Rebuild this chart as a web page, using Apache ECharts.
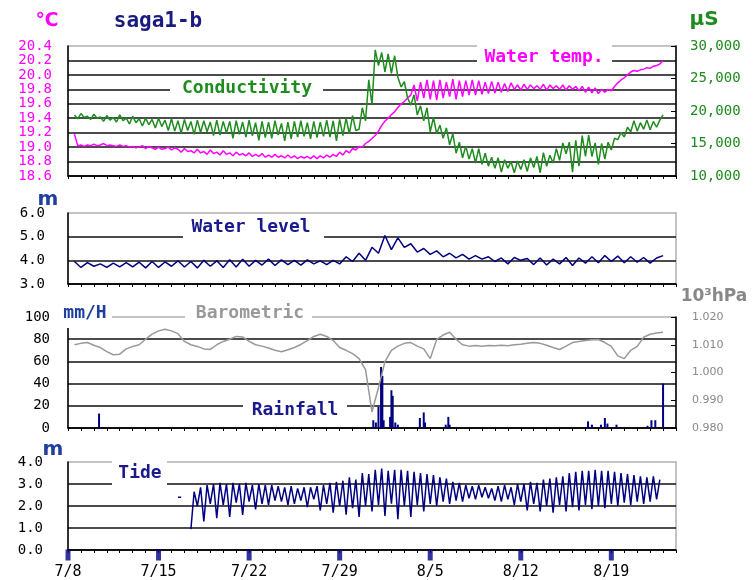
<!DOCTYPE html>
<html>
<head>
<meta charset="utf-8">
<script src="https://cdn.jsdelivr.net/npm/echarts@6/dist/echarts.min.js"></script>
<style>
  html, body { margin: 0; padding: 0; background: #fff; }
  #main { width: 754px; height: 580px; }
</style>
</head>
<body>
<div id="main"></div>
<script>
// x axis = days counted from 7/8 0:00
var dateLabels = ['7/8', '7/15', '7/22', '7/29', '8/5', '8/12', '8/19'];

// conductivity (uS), 4 readings a day from day 0.5
var condStart = 0.5, condStep = 0.25;
var conductivity = [
  19400, 18800, 19600, 19000,  19200, 18700, 19500, 18900,  19100, 18400, 19300, 18600,
  19000, 18300, 19400, 18500,  18900, 18000, 19200, 18200,  18800, 17700, 18900, 17900,
  18700, 17400, 18900, 17600,  18600, 17000, 18800, 16900,  18500, 16600, 18700, 17000,
  18400, 16400, 18600, 16700,  18500, 16800, 18300, 16200,  18600, 16300, 18400, 16600,
  18400, 15800, 18500, 16400,  18300, 16000, 18600, 16200,  18200, 15500, 18400, 15900,
  18300, 15800, 18500, 16300,  18100, 15400, 18300, 15700,  18400, 16000, 18500, 16100,
  18200, 15700, 18400, 15900,  18300, 16100, 18600, 16000,  18500, 15400, 18700, 16200,
  18900, 16500, 19300, 17000,  17200, 20500, 18500, 24800,  21000, 29400, 27000, 29000,
  26000, 28800, 25800, 28500,  25200, 23700, 24500, 22000,  20900, 22500, 19400, 20800,
  18500, 20500, 16800, 19000,  16500, 17800, 15800, 17400,  14800, 16500, 13500, 15200,
  12800, 14600, 12600, 14200,  12000, 14200, 11800, 13500,  11500, 12900, 11200, 12800,
  10600, 12500, 11200, 12200,  10500, 12300, 11000, 12500,  10700, 12800, 11300, 13000,
  10500, 13600, 11500, 13200,  12000, 14200, 12400, 15100,  13400, 15200, 10600, 15500,
  11500, 16200, 13000, 16300,  13000, 15100, 11800, 15000,  12600, 15200, 14000, 15800,
  15600, 16700, 16000, 17500,  16800, 18500, 16900, 18200,  17200, 18600, 17100, 18400,
  17500, 18600, 19400
];

// water temperature (deg C), 4 readings a day from day 0.5
var tempStart = 0.5, tempStep = 0.25;
var waterTemp = [
  19.18, 19.02, 19.03, 19.01,  19.03, 19.02, 19.04, 19.02,  19.03, 19.05, 19.02, 19.03,
  19.02, 19.01, 19.03, 19.01,  19.02, 19.00, 19.01, 18.99,  19.00, 19.02, 18.98, 19.01,
  18.99, 18.97, 19.00, 18.97,  18.98, 19.00, 18.96, 18.99,  18.97, 18.93, 18.98, 18.94,
  18.95, 18.92, 18.97, 18.92,  18.94, 18.90, 18.96, 18.91,  18.93, 18.89, 18.95, 18.90,
  18.92, 18.88, 18.93, 18.89,  18.91, 18.88, 18.92, 18.87,  18.90, 18.87, 18.91, 18.86,
  18.89, 18.86, 18.90, 18.86,  18.88, 18.85, 18.89, 18.85,  18.88, 18.84, 18.87, 18.85,
  18.87, 18.84, 18.88, 18.84,  18.88, 18.85, 18.89, 18.86,  18.90, 18.87, 18.93, 18.89,
  18.95, 18.92, 18.98, 18.96,  19.01, 19.00, 19.05, 19.08,  19.12, 19.16, 19.22, 19.30,
  19.36, 19.40, 19.45, 19.49,  19.55, 19.60, 19.63, 19.68,  19.72, 19.86, 19.64, 19.90,
  19.68, 19.93, 19.66, 19.92,  19.65, 19.93, 19.68, 19.90,  19.70, 19.94, 19.66, 19.92,
  19.70, 19.92, 19.72, 19.93,  19.72, 19.92, 19.73, 19.90,  19.74, 19.91, 19.75, 19.90,
  19.76, 19.88, 19.77, 19.89,  19.80, 19.86, 19.79, 19.87,  19.80, 19.86, 19.81, 19.85,
  19.80, 19.87, 19.79, 19.86,  19.81, 19.85, 19.80, 19.86,  19.79, 19.85, 19.80, 19.84,
  19.78, 19.84, 19.76, 19.83,  19.75, 19.82, 19.74, 19.80,  19.76, 19.80, 19.78, 19.84,
  19.89, 19.93, 19.96, 20.00,  20.04, 20.06, 20.05, 20.07,  20.08, 20.10, 20.09, 20.12,
  20.13, 20.15, 20.20
];

// water level (m), 2 readings a day from day 0.5
var levelStart = 0.5, levelStep = 0.5;
var waterLevel = [
  3.95, 3.70, 3.90, 3.75, 3.85, 3.70, 3.88, 3.72,
  3.90, 3.72, 3.92, 3.68, 3.95, 3.70, 3.93, 3.75,
  3.98, 3.72, 3.95, 3.68, 4.00, 3.75, 3.98, 3.70,
  4.02, 3.72, 4.05, 3.75, 4.00, 3.80, 4.05, 3.78,
  4.02, 3.82, 4.00, 3.80, 4.02, 3.85, 3.98, 3.82,
  4.00, 3.85, 4.15, 3.95, 4.30, 4.00, 4.55, 4.30,
  5.05, 4.45, 4.95, 4.55, 4.70, 4.35, 4.50, 4.25,
  4.40, 4.15, 4.30, 4.10, 4.25, 4.05, 4.20, 4.05,
  4.15, 3.95, 4.10, 3.85, 4.12, 4.00, 4.08, 3.82,
  4.10, 3.80, 4.05, 3.85, 4.12, 3.78, 4.10, 3.88,
  4.15, 3.90, 4.20, 3.95, 4.18, 3.90, 4.15, 3.92,
  4.12, 3.88, 4.10, 4.20
];

// barometric pressure (10^3 hPa), 2 readings a day from day 0.5
var baroStart = 0.5, baroStep = 0.5;
var barometric = [
  1.0100, 1.0105, 1.0108, 1.0098, 1.0090, 1.0075, 1.0064, 1.0066,
  1.0085, 1.0094, 1.0100, 1.0120, 1.0138, 1.0150, 1.0156, 1.0150,
  1.0140, 1.0112, 1.0100, 1.0094, 1.0085, 1.0083, 1.0100, 1.0112,
  1.0120, 1.0130, 1.0128, 1.0112, 1.0100, 1.0095, 1.0088, 1.0080,
  1.0075, 1.0082, 1.0090, 1.0101, 1.0115, 1.0130, 1.0138, 1.0130,
  1.0115, 1.0090, 1.0080, 1.0068, 1.0050, 1.0010, 0.9858, 0.9945,
  1.0039, 1.0080, 1.0095, 1.0105, 1.0108, 1.0095, 1.0085, 1.0050,
  1.0119, 1.0135, 1.0145, 1.0120, 1.0100, 1.0095, 1.0097, 1.0095,
  1.0097, 1.0096, 1.0098, 1.0096, 1.0100, 1.0102, 1.0105, 1.0108,
  1.0105, 1.0098, 1.0090, 1.0083, 1.0095, 1.0108, 1.0112, 1.0115,
  1.0118, 1.0119, 1.0108, 1.0094, 1.0060, 1.0050, 1.0080, 1.0094,
  1.0127, 1.0138, 1.0142, 1.0145
];

// rainfall (mm/H)
var rainDay = [2.4, 23.6, 23.8, 24.0, 24.2, 24.3, 24.4, 24.9, 25.0, 25.1, 25.3, 25.5, 27.2, 27.5,
  27.6, 29.2, 29.4, 29.5, 40.2, 40.5, 41.2, 41.5, 41.7, 42.4, 44.8, 45.1, 45.4, 46.0];
var rainMm = [13, 7, 5, 19, 55, 47, 7, 10, 34, 29, 5, 3, 9, 14,
  5, 3, 10, 3, 6, 3, 3, 9, 4, 3, 2, 7, 7, 40];

// tide (m), 4 readings a day from day 8.5
var tideStart = 8.5, tideStep = 0.25;
var tide = [
  2.40, 2.40, null, null,
  0.95, 2.65, 2.00, 2.85,  1.30, 2.95, 2.10, 3.00,  1.45, 3.05, 2.05, 3.00,
  1.50, 3.05, 2.15, 3.00,  1.60, 3.05, 2.20, 2.95,  1.85, 3.00, 2.10, 2.95,
  2.05, 2.95, 2.25, 2.90,  2.20, 2.85, 2.05, 2.90,  2.10, 2.80, 2.25, 2.85,
  1.95, 2.85, 2.30, 2.90,  1.80, 2.95, 2.10, 3.05,  1.70, 3.10, 2.00, 3.15,
  1.60, 3.30, 1.90, 3.20,  1.50, 3.50, 2.00, 3.45,  1.75, 3.65, 2.05, 3.70,
  1.55, 3.60, 2.10, 3.65,  1.40, 3.65, 2.00, 3.60,  1.50, 3.55, 2.05, 3.50,
  1.75, 3.45, 2.10, 3.40,  2.00, 3.30, 2.20, 3.25,  2.10, 3.10, 2.25, 3.05,
  2.20, 2.95, 2.35, 2.90,  2.30, 2.95, 2.40, 2.85,  2.35, 2.80, 2.25, 2.90,
  2.20, 2.95, 2.30, 2.85,  2.05, 3.00, 2.20, 3.00,  1.80, 3.10, 2.10, 3.05,
  1.75, 3.20, 2.00, 3.25,  1.70, 3.30, 2.05, 3.35,  1.75, 3.50, 1.95, 3.55,
  1.80, 3.60, 2.05, 3.60,  1.85, 3.65, 2.00, 3.60,  1.90, 3.60, 2.10, 3.55,
  2.00, 3.50, 2.15, 3.45,  2.05, 3.40, 2.20, 3.35,  2.10, 3.30, 2.20, 3.35,
  2.30, 3.20
];

function pairs(start, step, vals) {
  return vals.map(function (v, i) { return [start + i * step, v]; });
}

var mono = '"DejaVu Sans Mono", monospace';
var navy = '#000080';
var green = '#1e8c1e';
var magenta = '#ff00ff';

function xAx(gi, showLabel) {
  return {
    type: 'value', gridIndex: gi, min: 0, max: 47, interval: 1,
    axisLine: { show: true, onZero: false, lineStyle: { color: '#000', width: 1.5 } },
    axisTick: { show: true, length: 3, lineStyle: { color: '#000' } },
    splitLine: { show: false },
    axisLabel: {
      show: showLabel, margin: 15, color: '#000', fontFamily: mono, fontSize: 15,
      formatter: function (v) { return v % 7 === 0 ? dateLabels[v / 7] : ''; }
    }
  };
}

function yLeft(gi, min, max, interval, margin, color, digits) {
  return {
    type: 'value', gridIndex: gi, position: 'left', min: min, max: max, interval: interval,
    axisLine: { show: true, lineStyle: { color: '#000', width: 1.5 } },
    axisTick: { show: false },
    splitLine: { show: true, showMaxLine: false, lineStyle: { color: '#111', width: 1.5 } },
    axisLabel: {
      margin: margin, color: color, fontFamily: mono, fontSize: 14,
      formatter: function (v) { return v.toFixed(digits); }
    }
  };
}

var grids = [
  { left: 68, right: 78, top: 46, height: 130 },
  { left: 68, right: 78, top: 213, height: 71 },
  { left: 68, right: 78, top: 317, height: 111 },
  { left: 68, right: 78, top: 462, height: 89 }
].map(function (g) {
  g.show = true; g.borderColor = '#b0b0b0'; g.borderWidth = 1.5;
  return g;
});

function labelBox(x, y, w, h, cx, cy, text, color) {
  return [
    { type: 'rect', z: 100, shape: { x: x, y: y, width: w, height: h }, style: { fill: '#fff' } },
    { type: 'text', z: 101, x: cx, y: cy, style: {
      text: text, fill: color, font: 'bold 18px ' + mono,
      align: 'center', verticalAlign: 'middle', textAlign: 'center', textVerticalAlign: 'middle' } }
  ];
}

function unitText(x, y, text, color, font) {
  return { type: 'text', z: 101, x: x, y: y, style: {
    text: text, fill: color, font: font,
    align: 'center', verticalAlign: 'middle', textAlign: 'center', textVerticalAlign: 'middle' } };
}

var graphics = [].concat(
  labelBox(477, 44, 135, 23, 544, 57, 'Water temp.', magenta),
  labelBox(170, 79, 153, 20, 247, 88, 'Conductivity', green),
  labelBox(183, 217, 141, 23, 251, 227, 'Water level', '#1a1a8c'),
  labelBox(185, 304, 127, 20, 250, 313, 'Barometric', '#999'),
  labelBox(243, 398, 104, 22, 295, 410, 'Rainfall', '#1a1a8c'),
  labelBox(112, 456, 55, 33, 140, 473, 'Tide', '#1a1a8c'),
  [
    { type: 'rect', z: 100, shape: { x: 58, y: 302, width: 54, height: 26 }, style: { fill: '#fff' } },
    unitText(85, 313, 'mm/H', '#1f3f9f', 'bold 18px ' + mono),
    unitText(47, 21, '℃', magenta, 'bold 19px "DejaVu Sans"'),
    unitText(158, 22, 'saga1-b', '#1a1a80', 'bold 21px ' + mono),
    unitText(704, 20, 'μS', green, 'bold 20px "DejaVu Sans"'),
    unitText(48, 200, 'm', '#1f3f9f', 'bold 20px "DejaVu Sans"'),
    unitText(53, 450, 'm', '#1f3f9f', 'bold 20px "DejaVu Sans"'),
    unitText(714, 297, '10³hPa', '#888', 'bold 17px "DejaVu Sans"')
  ]
);

function lineSeries(name, xi, yi, data, color) {
  return {
    name: name, type: 'line', xAxisIndex: xi, yAxisIndex: yi, data: data,
    showSymbol: false, connectNulls: false,
    lineStyle: { color: color, width: 1.5 }, itemStyle: { color: color }
  };
}

var option = {
  animation: false,
  backgroundColor: '#fff',
  grid: grids,
  xAxis: [xAx(0, false), xAx(1, false), xAx(2, false), xAx(3, true)],
  yAxis: [
    yLeft(0, 18.6, 20.4, 0.2, 16, magenta, 1),
    {
      type: 'value', gridIndex: 0, position: 'right', min: 10000, max: 30000, interval: 5000,
      axisLine: { show: true, lineStyle: { color: '#000', width: 1.5 } },
      axisTick: { show: true, inside: true, length: 5, lineStyle: { color: '#000' } },
      splitLine: { show: false },
      axisLabel: { margin: 14, color: green, fontFamily: mono, fontSize: 14 }
    },
    yLeft(1, 3, 6, 1, 23, '#000', 1),
    yLeft(2, 0, 100, 20, 18, '#000', 0),
    {
      type: 'value', gridIndex: 2, position: 'right', min: 0.98, max: 1.02, interval: 0.01,
      axisLine: { show: true, lineStyle: { color: '#000', width: 1.5 } },
      axisTick: { show: true, inside: true, length: 5, lineStyle: { color: '#000' } },
      splitLine: { show: false },
      axisLabel: { margin: 16, color: '#888', fontFamily: '"DejaVu Sans"', fontSize: 11,
        formatter: function (v) { return v.toFixed(3); } }
    },
    yLeft(3, 0, 4, 1, 25, '#000', 1)
  ],
  graphic: graphics,
  series: [
    lineSeries('Water temp.', 0, 0, pairs(tempStart, tempStep, waterTemp), magenta),
    lineSeries('Conductivity', 0, 1, pairs(condStart, condStep, conductivity), green),
    lineSeries('Water level', 1, 2, pairs(levelStart, levelStep, waterLevel), navy),
    {
      name: 'Rainfall', type: 'bar', xAxisIndex: 2, yAxisIndex: 3, barWidth: 2,
      data: rainDay.map(function (d, i) { return [d, rainMm[i]]; }),
      itemStyle: { color: navy }
    },
    lineSeries('Barometric', 2, 4, pairs(baroStart, baroStep, barometric), '#999'),
    lineSeries('Tide', 3, 5, pairs(tideStart, tideStep, tide), navy),
    {
      // weekly marks under the bottom axis
      name: 'week', type: 'scatter', xAxisIndex: 3, yAxisIndex: 5, clip: false, z: 5,
      data: dateLabels.map(function (s, i) { return [i * 7, 0]; }),
      symbol: 'rect', symbolSize: [5, 11], symbolOffset: [0, 5],
      itemStyle: { color: navy }, silent: true
    }
  ]
};

var chart = echarts.init(document.getElementById('main'));
chart.setOption(option);
window.addEventListener('resize', function () { chart.resize(); });
</script>
</body>
</html>
